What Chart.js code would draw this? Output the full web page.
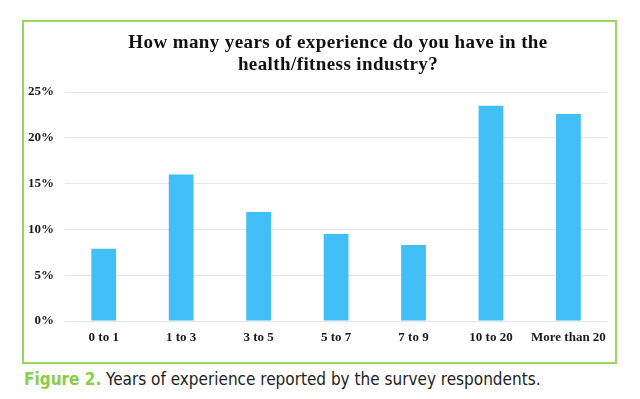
<!DOCTYPE html>
<html>
<head>
<meta charset="utf-8">
<script src="https://cdn.jsdelivr.net/npm/chart.js@4.4.0/dist/chart.umd.min.js"></script>
<style>
  body { margin: 0; background: #fff; width: 640px; height: 399px; overflow: hidden; position: relative; }
  #frame { position: absolute; left: 22px; top: 20px; width: 591px; height: 340px; border: 2px solid #9ad65c; }
  #chartBox { position: absolute; left: 0; top: 0; width: 591px; height: 340px; }
  #titulo { position: absolute; left: 64px; width: 500px; top: 9px; text-align: center; letter-spacing: 0.4px;
    font: bold 19px "Liberation Serif", "Times New Roman", serif; line-height: 22px; color: #111; }
  #legenda { position: absolute; left: 24px; top: 369px; font-family: "Liberation Sans Narrow", "DejaVu Sans Condensed", sans-serif;
    font-stretch: condensed; font-size: 17px; color: #222; white-space: nowrap; }
  #legenda b { color: #8dcc4a; }
</style>
</head>
<body>
<div id="frame">
  <div id="chartBox"><canvas id="grafico" width="591" height="340"></canvas></div>
  <div id="titulo">How many years of experience do you have in the<br>health/fitness industry?</div>
</div>
<div id="legenda"><b>Figure 2.</b> Years of experience reported by the survey respondents.</div>
<script>
const categorias = ['0 to 1', '1 to 3', '3 to 5', '5 to 7', '7 to 9', '10 to 20', 'More than 20'];
const percentuais = [7.9, 16.0, 11.9, 9.5, 8.3, 23.5, 22.6];
const ticksY = [0, 5, 10, 15, 20, 25];

const fonteEixo = { family: '"Liberation Serif", "Times New Roman", serif', size: 13, weight: 'bold' };

new Chart(document.getElementById('grafico').getContext('2d'), {
    type: 'bar',
    data: {
        labels: categorias,
        datasets: [{ data: percentuais, backgroundColor: '#42bff7', categoryPercentage: 1, barPercentage: 0.32 }]
    },
    options: {
        responsive: false,
        animation: false,
        layout: { padding: { top: 70, right: 2, left: 0, bottom: 0 } },
        plugins: { legend: { display: false }, tooltip: { enabled: false } },
        scales: {
            x: {
                grid: { display: false, drawTicks: false },
                border: { display: false },
                ticks: { color: '#1a1a1a', font: fonteEixo, padding: 9, maxRotation: 0 },
                afterFit: s => { s.height = 41; }
            },
            y: {
                min: 0, max: 25,
                afterBuildTicks: s => { s.ticks = ticksY.map(v => ({ value: v })); },
                grid: { color: '#e6e6e6', lineWidth: 1, drawTicks: false },
                border: { display: false },
                ticks: { color: '#1a1a1a', font: fonteEixo, padding: 11, callback: v => v + '%' },
                afterFit: s => { s.width = 41; }
            }
        }
    }
});
</script>
</body>
</html>
